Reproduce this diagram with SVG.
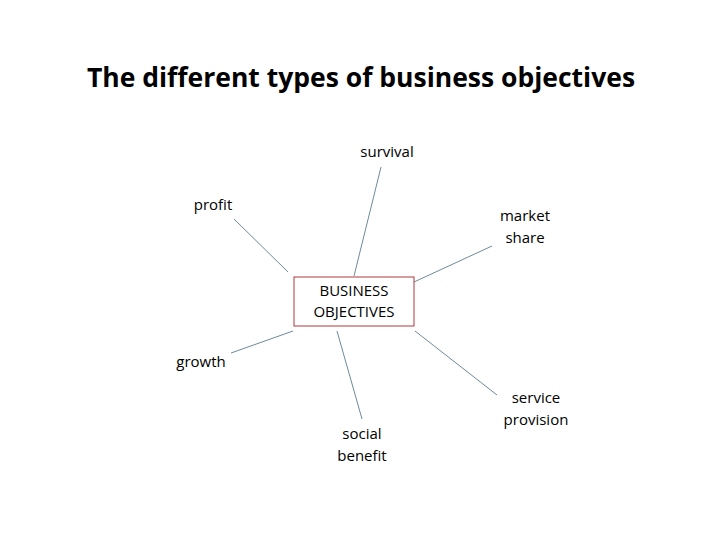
<svg xmlns="http://www.w3.org/2000/svg" width="720" height="540" viewBox="0 0 720 540">
<style>
text{font-family:"Open Sans","Liberation Sans",sans-serif;fill:#000;text-anchor:middle}
.t{font-size:26.5px;font-weight:bold}
.l{font-size:15px}
.c line{stroke:#6d8a9c;stroke-width:1}
</style>
<rect width="720" height="540" fill="#fff"/>
<text class="t" x="361" y="87">The different types of business objectives</text>
<g class="c" id="connectors">
<line x1="381" y1="167" x2="354" y2="276"/>
<line x1="234" y1="219" x2="288" y2="272"/>
<line x1="414" y1="282" x2="492" y2="246"/>
<line x1="231" y1="353" x2="293" y2="331"/>
<line x1="337" y1="331" x2="362" y2="419"/>
<line x1="415" y1="331" x2="497" y2="395"/>
</g>
<g id="center">
<rect x="294" y="277" width="120" height="49" fill="#fff" stroke="#b0393f" stroke-width="1"/>
<text class="l" x="354" y="296">BUSINESS</text>
<text class="l" x="354" y="317">OBJECTIVES</text>
</g>
<g id="survival"><text class="l" x="387" y="157">survival</text></g>
<g id="profit"><text class="l" x="213" y="210">profit</text></g>
<g id="market"><text class="l" x="525" y="221">market</text><text class="l" x="525" y="243">share</text></g>
<g id="growth"><text class="l" x="201" y="367">growth</text></g>
<g id="social"><text class="l" x="362" y="439">social</text><text class="l" x="362" y="461">benefit</text></g>
<g id="service"><text class="l" x="536" y="403">service</text><text class="l" x="536" y="425">provision</text></g>
</svg>
